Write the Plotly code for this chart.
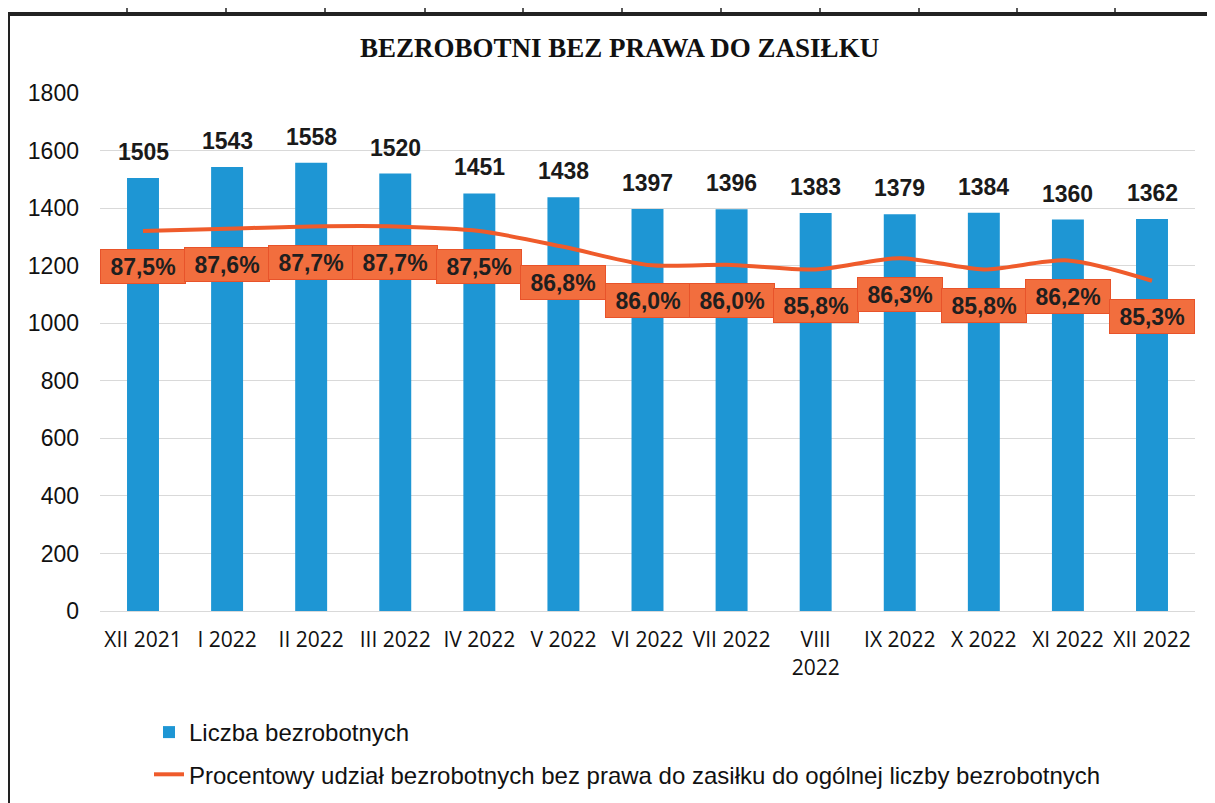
import plotly.graph_objects as go

categories = ["XII 2021", "I 2022", "II 2022", "III 2022", "IV 2022", "V 2022", "VI 2022",
              "VII 2022", "VIII<br>2022", "IX 2022", "X 2022", "XI 2022", "XII 2022"]
unemployed = [1505, 1543, 1558, 1520, 1451, 1438, 1397, 1396, 1383, 1379, 1384, 1360, 1362]
share_pct = [87.5, 87.6, 87.7, 87.7, 87.5, 86.8, 86.0, 86.0, 85.8, 86.3, 85.8, 86.2, 85.3]
y_ticks = [0, 200, 400, 600, 800, 1000, 1200, 1400, 1600, 1800]

BLUE = "#1E96D4"
ORANGE = "#EF5B2B"
BOX = "#F26E3E"

# figure geometry (page has an 8px body margin)
W, H = 1207, 795
L, R, T, B = 92, 20, 85, 192
PW, PH = W - L - R, H - T - B


def px_x(x):
    return (x - L) / PW


def px_y(y):
    return (H - B - y) / PH


fig = go.Figure()
fig.add_trace(go.Bar(
    x=categories, y=unemployed, name="Liczba bezrobotnych", legendgroup="a",
    marker=dict(color=BLUE, line=dict(width=0)),
))
fig.add_trace(go.Scatter(
    x=categories, y=share_pct, yaxis="y2", mode="lines", legendgroup="b",
    line=dict(color=ORANGE, width=4, shape="spline", smoothing=0.8),
    name="Procentowy udział bezrobotnych bez prawa do zasiłku do ogólnej liczby bezrobotnych",
))

annotations = []
for c, v in zip(categories, unemployed):
    annotations.append(dict(
        x=c, y=v, xref="x", yref="y", text=f"<b>{v}</b>", showarrow=False,
        yshift=26, font=dict(family="Liberation Sans, Arial", size=23, color="#1a1a1a"),
    ))
for c, p in zip(categories, share_pct):
    annotations.append(dict(
        x=c, y=p, xref="x", yref="y2", text="<b>" + f"{p:.1f}".replace(".", ",") + "%</b>",
        showarrow=False, yshift=-36,
        font=dict(family="Liberation Sans, Arial", size=23, color="#1f1f1f"),
        bgcolor=BOX, bordercolor="#E8532A", borderwidth=1, width=82, height=31, borderpad=1,
    ))
annotations.append(dict(
    x=px_x(611), y=px_y(40), xref="paper", yref="paper", xanchor="center", yanchor="middle",
    text="<b>BEZROBOTNI BEZ PRAWA DO ZASIŁKU</b>",
    showarrow=False, font=dict(family="Liberation Serif, Times New Roman", size=27, color="#111"),
))

shapes = [
    dict(type="line", xref="paper", yref="paper", x0=px_x(0), x1=px_x(1203), y0=px_y(6), y1=px_y(6),
         line=dict(color="#222", width=4)),
    dict(type="line", xref="paper", yref="paper", x0=px_x(1), x1=px_x(1), y0=px_y(5), y1=px_y(H),
         line=dict(color="#222", width=2)),
    dict(type="line", xref="paper", yref="paper", x0=px_x(1202), x1=px_x(1202), y0=px_y(5), y1=px_y(H),
         line=dict(color="#222", width=2)),
]
for xp in [119, 218, 317, 417, 515, 614, 713, 812, 911, 1009, 1107]:
    shapes.append(dict(type="line", xref="paper", yref="paper", x0=px_x(xp), x1=px_x(xp),
                       y0=px_y(6), y1=px_y(0), line=dict(color="#222", width=1.5)))

fig.update_layout(
    width=W, height=H,
    margin=dict(l=L, r=R, t=T, b=B, autoexpand=False),
    paper_bgcolor="white", plot_bgcolor="white",
    bargap=0.62,
    showlegend=True,
    legend=dict(x=px_x(141), y=px_y(702), xanchor="left", yanchor="top", orientation="v",
                font=dict(family="Liberation Sans, Arial", size=24, color="#111"),
                tracegroupgap=8, itemwidth=30, bgcolor="rgba(0,0,0,0)"),
    xaxis=dict(tickfont=dict(family="Open Sans, Calibri", size=21, color="#111"),
               showgrid=False, showline=True, linecolor="#d9d9d9", ticks="",
               ticklabelstandoff=10),
    yaxis=dict(range=[0, 1800], tickvals=y_ticks,
               tickfont=dict(family="Liberation Sans, Arial", size=23, color="#111"),
               showgrid=True, gridcolor="#d9d9d9", gridwidth=1, zeroline=False,
               ticks="", ticklabelstandoff=20),
    yaxis2=dict(range=[70.7, 93.6], overlaying="y", side="right", visible=False),
    annotations=annotations,
    shapes=shapes,
)
fig.write_html("out.html")
